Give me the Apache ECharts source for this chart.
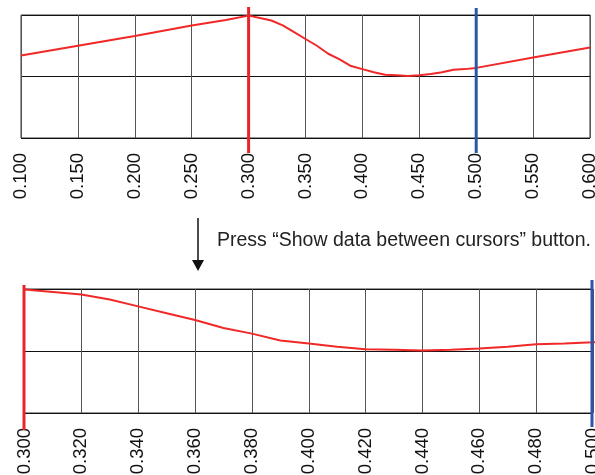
<!DOCTYPE html>
<html><head><meta charset="utf-8">
<script src="https://cdn.jsdelivr.net/npm/echarts@6/dist/echarts.min.js"></script>
<style>html,body{margin:0;padding:0;background:#fff}#c{width:595px;height:475px}</style>
</head><body><div id="c"></div>
<script>
// Waveform samples (x position, level)
const xValues = [0.100, 0.150, 0.200, 0.250, 0.280, 0.300, 0.310, 0.320, 0.330, 0.340, 0.350, 0.360, 0.370, 0.380, 0.390, 0.400, 0.410, 0.420, 0.430, 0.440, 0.450, 0.460, 0.470, 0.480, 0.490, 0.500, 0.550, 0.600];
const yValues = [1.34, 1.50, 1.66, 1.83, 1.92, 1.99, 1.95, 1.91, 1.83, 1.72, 1.61, 1.50, 1.37, 1.28, 1.17, 1.12, 1.07, 1.03, 1.02, 1.01, 1.02, 1.04, 1.07, 1.11, 1.12, 1.14, 1.31, 1.47];
// Tick values
const topTicks = [0.100, 0.150, 0.200, 0.250, 0.300, 0.350, 0.400, 0.450, 0.500, 0.550, 0.600];
const bottomTicks = [0.300, 0.320, 0.340, 0.360, 0.380, 0.400, 0.420, 0.440, 0.460, 0.480, 0.500];
const yTicks = [0, 1, 2];
// Cursors
const cursorA = 0.300;
const cursorB = 0.500;
const noteText = 'Press \u201cShow data between cursors\u201d button.';

const data = xValues.map((x, i) => [x, yValues[i]]);
const FONT = 'Liberation Sans, Arial, sans-serif';

function xAxisFor(ticks, gridIndex) {
  return {
    type: 'value', gridIndex,
    min: ticks[0], max: ticks[ticks.length - 1],
    interval: +(ticks[1] - ticks[0]).toFixed(3),
    axisLine: { show: false }, axisTick: { show: false },
    splitLine: { show: true, lineStyle: { color: '#555', width: 1 } },
    axisLabel: { rotate: 90, margin: 15, fontSize: 18.5, fontFamily: FONT, color: '#111',
      showMinLabel: true, showMaxLabel: true, hideOverlap: false,
      formatter: v => v.toFixed(3) }
  };
}
function yAxisFor(gridIndex) {
  return {
    type: 'value', gridIndex, min: yTicks[0], max: yTicks[yTicks.length - 1], interval: yTicks[1] - yTicks[0],
    axisLine: { show: false }, axisTick: { show: false }, axisLabel: { show: false },
    splitLine: { show: true, lineStyle: { color: '#111', width: 1 } }
  };
}

const chart = echarts.init(document.getElementById('c'), null, { renderer: 'canvas' });
chart.setOption({
  animation: false,
  backgroundColor: '#fff',
  grid: [
    { left: 21, top: 15, width: 569, height: 123, show: true, borderColor: '#333', borderWidth: 1, containLabel: false, outerBoundsMode: 'none' },
    { left: 24.5, top: 289, width: 568.5, height: 124, show: true, borderColor: '#333', borderWidth: 1, containLabel: false, outerBoundsMode: 'none' }
  ],
  xAxis: [xAxisFor(topTicks, 0), xAxisFor(bottomTicks, 1)],
  yAxis: [yAxisFor(0), yAxisFor(1)],
  series: [
    { type: 'line', xAxisIndex: 0, yAxisIndex: 0, data, showSymbol: false, clip: true,
      lineStyle: { color: '#f02828', width: 2 } },
    { type: 'line', xAxisIndex: 1, yAxisIndex: 1, data, showSymbol: false, clip: true,
      lineStyle: { color: '#f02828', width: 2 } }
  ],
  graphic: [
    { id: 'arrowShaft', type: 'line', shape: { x1: 198, y1: 218, x2: 198, y2: 262 }, style: { stroke: '#111', lineWidth: 1.5 } },
    { id: 'arrowHead', type: 'polygon', shape: { points: [[192, 260], [204, 260], [198, 271]] }, style: { fill: '#111' } },
    { id: 'note', type: 'text', x: 217, y: 241, style: { text: noteText, font: '19.5px ' + FONT, fill: '#222', textVerticalAlign: 'middle' } }
  ]
});

// Cursor lines placed through the chart's own scales
const g0 = [15, 138], g1 = [289, 413];
const ax = chart.convertToPixel({ xAxisIndex: 0 }, cursorA);
const bx = chart.convertToPixel({ xAxisIndex: 0 }, cursorB);
const ax2 = chart.convertToPixel({ xAxisIndex: 1 }, cursorA);
const bx2 = chart.convertToPixel({ xAxisIndex: 1 }, cursorB);
chart.setOption({
  graphic: [
    { id: 'cA0', type: 'line', z: 10, shape: { x1: ax, y1: g0[0] - 8, x2: ax, y2: g0[1] + 15 }, style: { stroke: '#e8262a', lineWidth: 3 } },
    { id: 'cB0', type: 'line', z: 10, shape: { x1: bx, y1: g0[0] - 7, x2: bx, y2: g0[1] + 15 }, style: { stroke: '#2b55a5', lineWidth: 3 } },
    { id: 'cA1', type: 'line', z: 10, shape: { x1: ax2 - 0.5, y1: g1[0] - 4, x2: ax2 - 0.5, y2: g1[1] + 17 }, style: { stroke: '#e8262a', lineWidth: 3 } },
    { id: 'cB1', type: 'line', z: 10, shape: { x1: bx2 - 1, y1: g1[0] - 9, x2: bx2 - 1, y2: g1[1] + 14 }, style: { stroke: '#2b55a5', lineWidth: 3 } }
  ]
});
</script></body></html>
